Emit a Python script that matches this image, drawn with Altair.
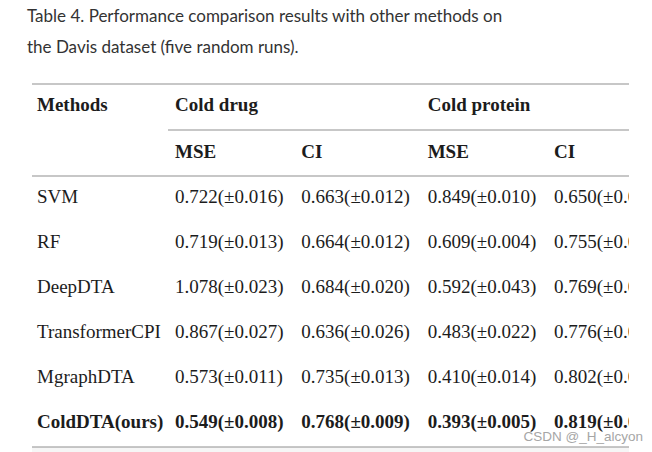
import altair as alt
import pandas as pd

title_lines = ["Table 4. Performance comparison results with other methods on",
               "the Davis dataset (five random runs)."]

methods = ["SVM", "RF", "DeepDTA", "TransformerCPI", "MgraphDTA", "ColdDTA(ours)"]
drug_mse = ["0.722(±0.016)", "0.719(±0.013)", "1.078(±0.023)", "0.867(±0.027)", "0.573(±0.011)", "0.549(±0.008)"]
drug_ci = ["0.663(±0.012)", "0.664(±0.012)", "0.684(±0.020)", "0.636(±0.026)", "0.735(±0.013)", "0.768(±0.009)"]
prot_mse = ["0.849(±0.010)", "0.609(±0.004)", "0.592(±0.043)", "0.483(±0.022)", "0.410(±0.014)", "0.393(±0.005)"]
# last column is cut off at the right edge in the original picture
prot_ci = ["0.650(±0.0", "0.755(±0.0", "0.769(±0.0", "0.776(±0.0", "0.802(±0.0", "0.819(±0.0"]

header_top = [("Methods", 0), ("Cold drug", 1), ("Cold protein", 3)]
header_sub = [("MSE", 1), ("CI", 2), ("MSE", 3), ("CI", 4)]

rows = []
for t, c in header_top:
    rows.append({"text": t, "col": c, "row": 0, "bold": True})
for t, c in header_sub:
    rows.append({"text": t, "col": c, "row": 1, "bold": True})
for i, m in enumerate(methods):
    bold = (m == "ColdDTA(ours)")
    for c, v in enumerate([m, drug_mse[i], drug_ci[i], prot_mse[i], prot_ci[i]]):
        rows.append({"text": v, "col": c, "row": 2 + i, "bold": bold})
cells = pd.DataFrame(rows)

# table rules: (row boundary, start col, end col)
rules = pd.DataFrame([
    {"y": -0.5, "x": -0.5, "x2": 4.6},
    {"y": 0.5, "x": 0.5, "x2": 4.6},
    {"y": 1.5, "x": -0.5, "x2": 4.6},
    {"y": 7.5, "x": -0.5, "x2": 4.6},
])
shade = pd.DataFrame([{"y": 7.5, "y2": 7.8, "x": -0.5, "x2": 4.6}])

xscale = alt.Scale(domain=[-0.5, 0, 0.5, 1, 4, 4.6], range=[24, 29, 160, 167, 546, 621], clamp=False)
yscale = alt.Scale(domain=[-0.5, 0, 0.5, 1, 1.5, 2, 7, 7.5, 7.8],
                   range=[76, 97, 122, 144, 168, 189, 414, 439, 447], clamp=False)

X = lambda f: alt.X(f, type="quantitative", scale=xscale, axis=None)
Y = lambda f: alt.Y(f, type="quantitative", scale=yscale, axis=None)

base_font = "Liberation Serif"
txt_color = "#1c1c1c"
fs = 19

normal = alt.Chart(cells).transform_filter("!datum.bold").mark_text(
    align="left", baseline="middle", font=base_font, fontSize=fs, color=txt_color, clip=True
).encode(x=X("col"), y=Y("row"), text="text:N")

bold = alt.Chart(cells).transform_filter("datum.bold").mark_text(
    align="left", baseline="middle", font=base_font, fontSize=fs, fontWeight="bold",
    color=txt_color, clip=True
).encode(x=X("col"), y=Y("row"), text="text:N")

shade_layer = alt.Chart(shade).mark_rect(color="#f6f6f6").encode(
    x=X("x"), x2="x2", y=Y("y"), y2="y2")

rule_layer = alt.Chart(rules).mark_rule(color="#8f8f8f", strokeWidth=1.2).encode(
    x=X("x"), x2="x2", y=Y("y"))

title_df = pd.DataFrame({"text": title_lines, "line": [0, 1]})
title_layer = alt.Chart(title_df).mark_text(
    align="left", baseline="alphabetic", font="Lato",
    fontSize=17, color="#333333"
).encode(
    x=alt.value(19),
    y=alt.Y("line:Q", scale=alt.Scale(domain=[0, 1], range=[13.5, 45]), axis=None),
    text="text:N")

watermark = alt.Chart(pd.DataFrame({"text": ["CSDN @_H_alcyon"]})).mark_text(
    align="right", baseline="middle", font="Liberation Sans, Arial", fontSize=13.5, color="#a6a6a6"
).encode(x=alt.value(635), y=alt.value(429), text="text:N")

chart = alt.layer(shade_layer, rule_layer, normal, bold, title_layer, watermark).resolve_scale(
    y="independent"
).properties(
    width=621, height=440, autosize=alt.AutoSizeParams(type="none"),
    padding={"left": 0, "top": 0, "right": 15, "bottom": 4}
).configure_view(stroke=None)

chart.save("out.html", embed_options={"renderer": "svg", "actions": False})
